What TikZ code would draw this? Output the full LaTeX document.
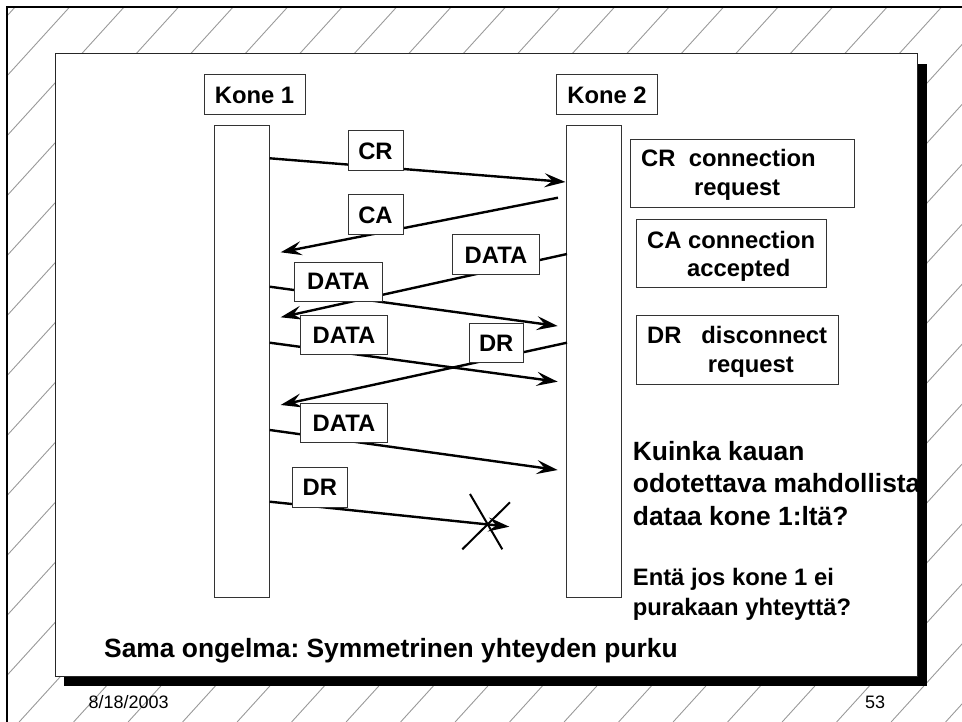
\documentclass[tikz,border=0pt]{standalone}
\usepackage{fontspec}
\setmainfont{Liberation Sans}
\usetikzlibrary{arrows.meta}
\frenchspacing
\tikzset{
  hatch/.style={draw=black!40, line width=0.9pt},
  frame/.style={draw=black, line width=2.3pt},
  slide/.style={draw=black!85, fill=white, line width=1pt, inner sep=0pt},
  bar/.style={draw=black!80, fill=white, line width=1pt, inner sep=0pt},
  boxlbl/.style={draw=black!80, fill=white, line width=1pt, inner sep=0pt,
    font=\bfseries\fontsize{23.8}{28}\selectfont},
  legbox/.style={draw=black!80, fill=white, line width=1pt, inner sep=0pt},
  msg/.style={draw=black, line width=2.4pt, -{Stealth[length=21pt,width=14pt,inset=8pt]}},
  crossline/.style={draw=black, line width=2pt},
  txt/.style={inner sep=0pt, anchor=base west, font=\bfseries\fontsize{23.8}{28}\selectfont},
  bigtxt/.style={inner sep=0pt, anchor=base west, font=\bfseries\fontsize{26.4}{32}\selectfont},
  smalltxt/.style={inner sep=0pt, anchor=base west, font=\fontsize{18}{22}\selectfont},
}
\begin{document}
\frenchspacing
\begin{tikzpicture}[x=1pt,y=-1pt]
\useasboundingbox (0,0) rectangle (962,722);
% hatched background
\begin{scope}
  \clip (7,7) rectangle (962,722);
  \foreach \k in {-1,...,28}
    \draw[hatch] ({76+54.5*\k},0) -- ({76+54.5*\k-656.4},722);
\end{scope}
\draw[frame] (7.3,722) -- (7.3,7.3) -- (962,7.3);
% slide
\node[slide, minimum width=862.7pt, minimum height=622.7pt] (slide) at (486.35,365.35) {};
% machines
\node[boxlbl, minimum width=101pt, minimum height=40pt] (k1) at (254.5,95) {Kone 1};
\node[boxlbl, minimum width=100.6pt, minimum height=40pt] (k2) at (607,95) {Kone 2};
\node[bar, minimum width=54.7pt, minimum height=471pt] (bar1) at (242.3,361.5) {};
\node[bar, minimum width=54.7pt, minimum height=471pt] (bar2) at (594.3,361.5) {};
% message end points
\coordinate (crS) at (269.7,158.3);   \coordinate (crE) at (565.5,182);
\coordinate (caS) at (558,197.7);     \coordinate (caE) at (280.7,252.3);
\coordinate (duS) at (567,254);       \coordinate (duE) at (280.7,317.3);
\coordinate (d1S) at (269.7,286.7);   \coordinate (d1E) at (557.7,326);
\coordinate (d2S) at (269.7,342.7);   \coordinate (d2E) at (557.7,381.7);
\coordinate (r2S) at (567,342.7);     \coordinate (r2E) at (280.7,405);
\coordinate (d3S) at (269.7,430);     \coordinate (d3E) at (557.7,470);
\coordinate (r1S) at (269.7,501.7);   \coordinate (r1E) at (509.3,526.7);
\coordinate (xa1) at (470,494);       \coordinate (xa2) at (502.3,549.3);
\coordinate (xb1) at (510,502.3);     \coordinate (xb2) at (462.3,549.3);
% messages
\draw[msg] (crS) -- (crE);
\draw[msg] (caS) -- (caE);
\draw[msg] (duS) -- (duE);
\draw[msg] (d1S) -- (d1E);
\draw[msg] (d2S) -- (d2E);
\draw[msg] (r2S) -- (r2E);
\draw[msg] (d3S) -- (d3E);
\draw[msg] (r1S) -- (r1E);
\draw[crossline] (xa1) -- (xa2);
\draw[crossline] (xb1) -- (xb2);
% message labels
\node[boxlbl, minimum width=55pt, minimum height=40pt] (lcr) at (375.5,151) {CR};
\node[boxlbl, minimum width=55pt, minimum height=40pt] (lca) at (375.5,215) {CA};
\node[boxlbl, minimum width=86.6pt, minimum height=40pt] (ldu) at (496,255) {DATA};
\node[boxlbl, minimum width=88pt, minimum height=38.7pt] (ld1) at (338.3,281.7) {DATA};
\node[boxlbl, minimum width=86.6pt, minimum height=39.4pt] (ld2) at (344,335) {DATA};
\node[boxlbl, minimum width=54.3pt, minimum height=39.4pt] (lr2) at (496.2,343) {DR};
\node[boxlbl, minimum width=86.6pt, minimum height=39.7pt] (ld3) at (344,423) {DATA};
\node[boxlbl, minimum width=55pt, minimum height=39.6pt] (lr1) at (319.8,487.5) {DR};
% legend
\node[legbox, minimum width=224.4pt, minimum height=68.4pt] (lgcr) at (742.5,173.5) {};
\node[legbox, minimum width=190.4pt, minimum height=68pt] (lgca) at (731.5,253.3) {};
\node[legbox, minimum width=202.4pt, minimum height=68.7pt] (lgdr) at (737.5,349.7) {};
\node[txt] (tcr1) at (641,167) {CR\ \ connection};
\node[txt] (tcr2) at (694,196) {request};
\node[txt] (tca1) at (647,248.3) {CA connection};
\node[txt] (tca2) at (687,277) {accepted};
\node[txt] (tdr1) at (647,343.3) {DR\ \ \ disconnect};
\node[txt] (tdr2) at (707.7,372) {request};
% questions
\node[bigtxt] (q1) at (632.7,460) {Kuinka kauan};
\node[bigtxt] (q2) at (632.7,492.7) {odotettava mahdollista};
\node[bigtxt] (q3) at (632.7,525) {dataa kone 1:ltä?};
\node[txt] (q4) at (632.7,585) {Entä jos kone 1 ei};
\node[txt] (q5) at (632.7,615) {purakaan yhteyttä?};
\node[bigtxt] (title) at (104,657.7) {Sama ongelma: Symmetrinen yhteyden purku};
% shadow
\fill[black] (917.7,64) rectangle (926.7,686);
\fill[black] (64,676.7) rectangle (926.7,686);
% footer
\node[smalltxt] (date) at (88.3,708) {8/18/2003};
\node[smalltxt] (page) at (865,708) {53};
\end{tikzpicture}
\end{document}
